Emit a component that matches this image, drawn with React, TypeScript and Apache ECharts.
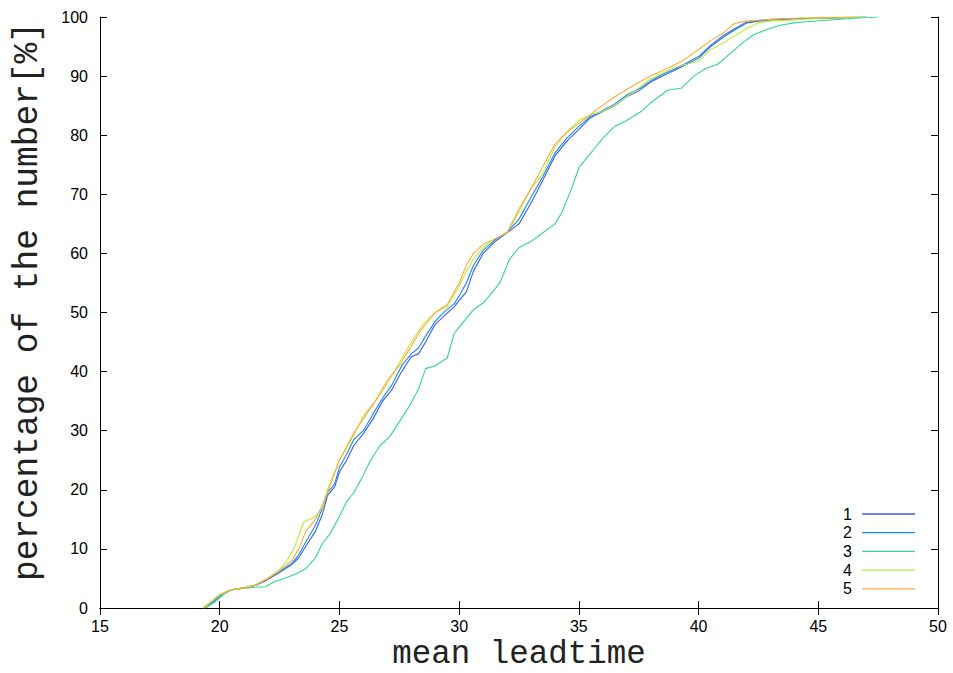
import React, { useEffect, useRef } from "react";
import * as echarts from "echarts";

const seriesNames = ["1", "2", "3", "4", "5"];
const seriesColors = ["#3a5ff0", "#1a8ae6", "#2fd98e", "#b6ee3a", "#ffab38"];

const xTicks = [15, 20, 25, 30, 35, 40, 45, 50];
const yTicks = [0, 10, 20, 30, 40, 50, 60, 70, 80, 90, 100];

const s1: [number, number][] = [
  [19.35, 0], [19.7, 1], [20.0, 2], [20.4, 3], [21.0, 3.4], [21.5, 3.8], [22.0, 4.8], [22.5, 6],
  [23.0, 7.3], [23.3, 8.5], [23.6, 10.5], [24.0, 13], [24.3, 16], [24.5, 19], [24.8, 20.5],
  [25.0, 23], [25.3, 25], [25.6, 27.5], [26.0, 29.5], [26.4, 32], [26.8, 35], [27.2, 37],
  [27.6, 40], [28.0, 42.5], [28.3, 43], [28.6, 45], [29.0, 48], [29.4, 49.5], [29.8, 51],
  [30.0, 52], [30.3, 53.5], [30.6, 57], [31.0, 60], [31.5, 62], [32.0, 63.5], [32.5, 65],
  [33.0, 68.5], [33.5, 72.4], [34.0, 76.5], [34.5, 79], [35.0, 81], [35.5, 83], [36.0, 84],
  [36.5, 85], [37.0, 86.5], [37.5, 87.5], [38.0, 89], [38.5, 90], [39.0, 91], [39.5, 92],
  [40.0, 93], [40.5, 95], [41.0, 96.5], [41.5, 97.8], [42.0, 99], [42.5, 99.3], [43.0, 99.5],
  [44.0, 99.7], [45.0, 99.8], [46.0, 99.9], [47.0, 100],
];

const s2: [number, number][] = [
  [19.4, 0], [19.75, 1.1], [20.05, 2.1], [20.45, 3], [21.0, 3.4], [21.5, 3.9], [22.0, 5], [22.5, 6.2],
  [23.0, 7.5], [23.3, 9], [23.6, 11.2], [24.0, 14], [24.3, 17], [24.5, 19.5], [24.8, 21],
  [25.0, 23.8], [25.3, 26], [25.6, 28.5], [26.0, 30], [26.4, 32.8], [26.8, 35.5], [27.2, 37.8],
  [27.6, 41], [28.0, 43], [28.3, 44], [28.6, 46], [29.0, 48.5], [29.4, 50.2], [29.8, 51.5],
  [30.0, 52.8], [30.3, 55], [30.6, 58], [31.0, 60.5], [31.5, 62.3], [32.0, 63.6], [32.5, 65.8],
  [33.0, 69.5], [33.5, 73], [34.0, 77], [34.5, 79.5], [35.0, 81.5], [35.5, 83.2], [36.0, 84.2],
  [36.5, 85.3], [37.0, 86.8], [37.5, 87.8], [38.0, 89.2], [38.5, 90.3], [39.0, 91.2], [39.5, 92.2],
  [40.0, 93.3], [40.5, 95.2], [41.0, 96.8], [41.5, 98], [42.0, 99.1], [42.5, 99.4], [43.0, 99.6],
  [44.0, 99.7], [45.0, 99.8], [46.0, 99.9], [47.0, 100],
];

const s3: [number, number][] = [
  [19.4, 0], [19.8, 1], [20.2, 2.5], [20.6, 3.2], [21.0, 3.3], [21.5, 3.5], [21.9, 3.6],
  [22.3, 4.5], [22.7, 5], [23.2, 5.8], [23.6, 6.7], [24.0, 8.5], [24.3, 11], [24.6, 12.5],
  [25.0, 15.5], [25.3, 18], [25.6, 19.5], [26.0, 22.5], [26.3, 25], [26.7, 27.5], [27.1, 29],
  [27.5, 31.5], [27.9, 34], [28.3, 37], [28.6, 40.5], [29.0, 41], [29.5, 42.3], [29.8, 46.5],
  [30.2, 48.5], [30.6, 50.5], [31.0, 51.6], [31.4, 53.5], [31.7, 55], [32.1, 59], [32.5, 61],
  [33.0, 62], [33.5, 63.5], [34.0, 65], [34.3, 67], [34.7, 71], [35.0, 74.5], [35.3, 76],
  [35.7, 78], [36.0, 79.5], [36.5, 81.5], [37.0, 82.5], [37.6, 84], [38.0, 85.5], [38.7, 87.6],
  [39.3, 88], [39.8, 90], [40.3, 91.3], [40.8, 92], [41.4, 94.1], [41.8, 95.5], [42.3, 97],
  [42.8, 97.8], [43.4, 98.6], [44.0, 99], [44.5, 99.2], [45.5, 99.5], [46.5, 99.8], [47.5, 100],
];

const s4: [number, number][] = [
  [19.35, 0], [19.7, 1.2], [20.0, 2.2], [20.4, 3], [21.0, 3.4], [21.5, 3.9], [22.0, 5],
  [22.5, 6.5], [22.8, 8], [23.1, 10], [23.5, 14.5], [24.0, 15.5], [24.3, 17], [24.5, 20],
  [25.0, 25], [25.5, 28.5], [26.0, 32.5], [26.5, 35], [27.0, 38], [27.5, 41.5], [28.0, 45],
  [28.5, 48], [29.0, 50], [29.5, 51], [30.0, 54.5], [30.3, 57], [30.6, 59], [31.0, 61],
  [31.5, 62.5], [32.0, 63.5], [32.5, 67], [33.0, 71], [33.5, 73.5], [34.0, 78], [34.5, 80.5],
  [35.0, 82.5], [35.5, 83.5], [36.0, 84], [36.5, 85], [37.0, 86.5], [37.5, 88], [38.0, 89.5],
  [38.5, 90.5], [39.0, 91.5], [39.5, 92], [40.0, 92.5], [40.5, 94.5], [41.0, 95.5], [41.5, 96.8],
  [42.0, 98], [42.5, 99], [43.0, 99.3], [44.0, 99.5], [45.0, 99.8], [46.0, 99.9], [47.0, 100],
];

const s5: [number, number][] = [
  [19.3, 0], [19.6, 1], [20.0, 2.3], [20.4, 3], [21.0, 3.4], [21.5, 3.9], [22.0, 5], [22.5, 6.3],
  [23.0, 8], [23.3, 10], [23.6, 13], [24.0, 15], [24.3, 17.5], [24.5, 19.5], [25.0, 25],
  [25.6, 29.6], [26.0, 32], [26.5, 35], [27.0, 38.5], [27.5, 41], [27.8, 43], [28.4, 47],
  [29.0, 50], [29.5, 51.3], [30.0, 55], [30.3, 58], [30.6, 60], [31.0, 61.5], [31.5, 62.5],
  [32.0, 63.5], [32.5, 67.5], [33.0, 71], [33.5, 74.7], [34.0, 78.5], [34.5, 80.5], [35.0, 82],
  [35.5, 83.5], [35.9, 84.8], [36.5, 86.5], [37.3, 88.5], [38.0, 90], [38.7, 91.3], [39.3, 92.5],
  [40.0, 94.5], [40.5, 96], [41.0, 97.2], [41.5, 98.9], [42.0, 99.3], [43.0, 99.6], [44.0, 99.8],
  [45.0, 99.9], [46.5, 100],
];

const allSeries = [s1, s2, s3, s4, s5];

export default function App() {
  const ref = useRef<HTMLDivElement>(null);
  useEffect(() => {
    if (!ref.current) return;
    const chart = echarts.init(ref.current, undefined, { renderer: "svg" });
    const tickFont = { fontFamily: "'Liberation Sans', Arial, sans-serif", fontSize: 16, color: "#000" };
    const monoFamily = "'Liberation Mono', 'Courier New', monospace";
    const axisBase = {
      type: "value" as const,
      axisLine: { show: true, lineStyle: { color: "#000", width: 1 } },
      axisTick: { show: true, inside: true, length: 7, lineStyle: { color: "#000", width: 1 } },
      splitLine: { show: false },
    };
    chart.setOption({
      animation: false,
      backgroundColor: "#fff",
      grid: { left: 100, right: 15, top: 17, bottom: 65, containLabel: false, outerBoundsMode: "none" },
      legend: {
        data: seriesNames.map((n) => ({ name: n, icon: "rect" })),
        orient: "vertical",
        align: "right",
        right: 38,
        top: 506,
        padding: 0,
        itemWidth: 53,
        itemHeight: 1.3,
        itemGap: 2.7,
        textStyle: { ...tickFont, lineHeight: 16, padding: [0, 5, 0, 0] },
      },
      xAxis: [
        {
          ...axisBase,
          position: "bottom",
          min: 15,
          max: 50,
          interval: 5,
          axisLabel: { ...tickFont, margin: 10.5, formatter: (v: number) => (xTicks.includes(v) ? String(v) : "") },
          name: "mean leadtime",
          nameLocation: "middle",
          nameGap: 29.5,
          nameMoveOverlap: false,
          nameTextStyle: { fontFamily: monoFamily, fontSize: 32.5, color: "#222" },
        },
        {
          ...axisBase,
          position: "top",
          min: 15,
          max: 50,
          interval: 5,
          axisLabel: { show: false },
        },
      ],
      yAxis: [
        {
          ...axisBase,
          position: "left",
          min: 0,
          max: 100,
          interval: 10,
          axisLabel: { ...tickFont, margin: 12, formatter: (v: number) => (yTicks.includes(v) ? String(v) : "") },
          name: "percentage of the number[%]",
          nameLocation: "middle",
          nameRotate: 90,
          nameGap: 55,
          nameMoveOverlap: false,
          nameTextStyle: { fontFamily: monoFamily, fontSize: 34.5, color: "#222", padding: [0, 0, 0, 22] },
        },
        {
          ...axisBase,
          position: "right",
          min: 0,
          max: 100,
          interval: 10,
          axisLabel: { show: false },
        },
      ],
      series: allSeries.map((d, i) => ({
        name: seriesNames[i],
        type: "line",
        data: d,
        xAxisIndex: 0,
        yAxisIndex: 0,
        symbol: "none",
        showSymbol: false,
        lineStyle: { color: seriesColors[i], width: 1.1 },
        itemStyle: { color: seriesColors[i] },
        z: 2 + i,
      })),
    });
    return () => chart.dispose();
  }, []);
  return <div ref={ref} style={{ width: 953, height: 673, position: "absolute", left: 0, top: 0 }} />;
}
